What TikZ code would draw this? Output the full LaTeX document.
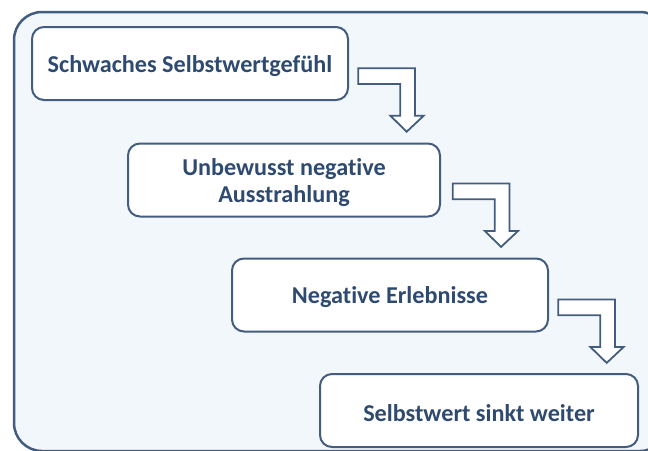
\documentclass[tikz,border=0pt]{standalone}
\usepackage{fontspec}
\setmainfont[Ligatures=NoCommon]{Carlito}
\usetikzlibrary{calc}
\definecolor{edgeblue}{HTML}{435D80}
\definecolor{textblue}{HTML}{2F4A70}
\definecolor{bgblue}{HTML}{F2F7FB}
\tikzset{
  stepbox/.style={draw=edgeblue, line width=2pt, rounded corners=12pt, fill=white,
    minimum width=#1, minimum height=73pt, inner sep=0pt, align=center,
    font=\fontsize{24.2}{27}\selectfont\bfseries, text=textblue},
  bentarrow/.pic={
    \draw[draw=edgeblue, line width=1.8pt, fill=white, line join=miter]
      (0,0) -- (56.7,0) -- (56.7,47.4) -- (65.4,47.4) -- (48.4,63.4)
      -- (32,47.4) -- (42,47.4) -- (42,15.7) -- (0,15.7) -- cycle;
  }
}
\begin{document}
\begin{tikzpicture}[x=1pt,y=-1pt]
\useasboundingbox (0,0) rectangle (648,450);
\begin{scope}
\clip (0,0) rectangle (648,450);
\draw[draw=edgeblue, line width=2.5pt, fill=bgblue, rounded corners=28pt]
  (14,12) rectangle (668,451);
\end{scope}
\node[stepbox=316pt] (b1) at (190,63.5) {\rule{0pt}{22pt}Schwaches Selbstwertgefühl};
\node[stepbox=312pt] (b2) at (284,180) {\rule{0pt}{22pt}Unbewusst negative\\Ausstrahlung};
\node[stepbox=316pt] (b3) at (390,295) {\rule{0pt}{22pt}Negative Erlebnisse};
\node[stepbox=318pt] (b4) at (479,410.5) {\rule{0pt}{22pt}Selbstwert sinkt weiter};
\pic at ($(b1.north east)+(9.3,42.3)$) {bentarrow};
\pic at ($(b2.north east)+(11.7,41)$) {bentarrow};
\pic at ($(b3.north east)+(9.3,42)$) {bentarrow};
\end{tikzpicture}
\end{document}
